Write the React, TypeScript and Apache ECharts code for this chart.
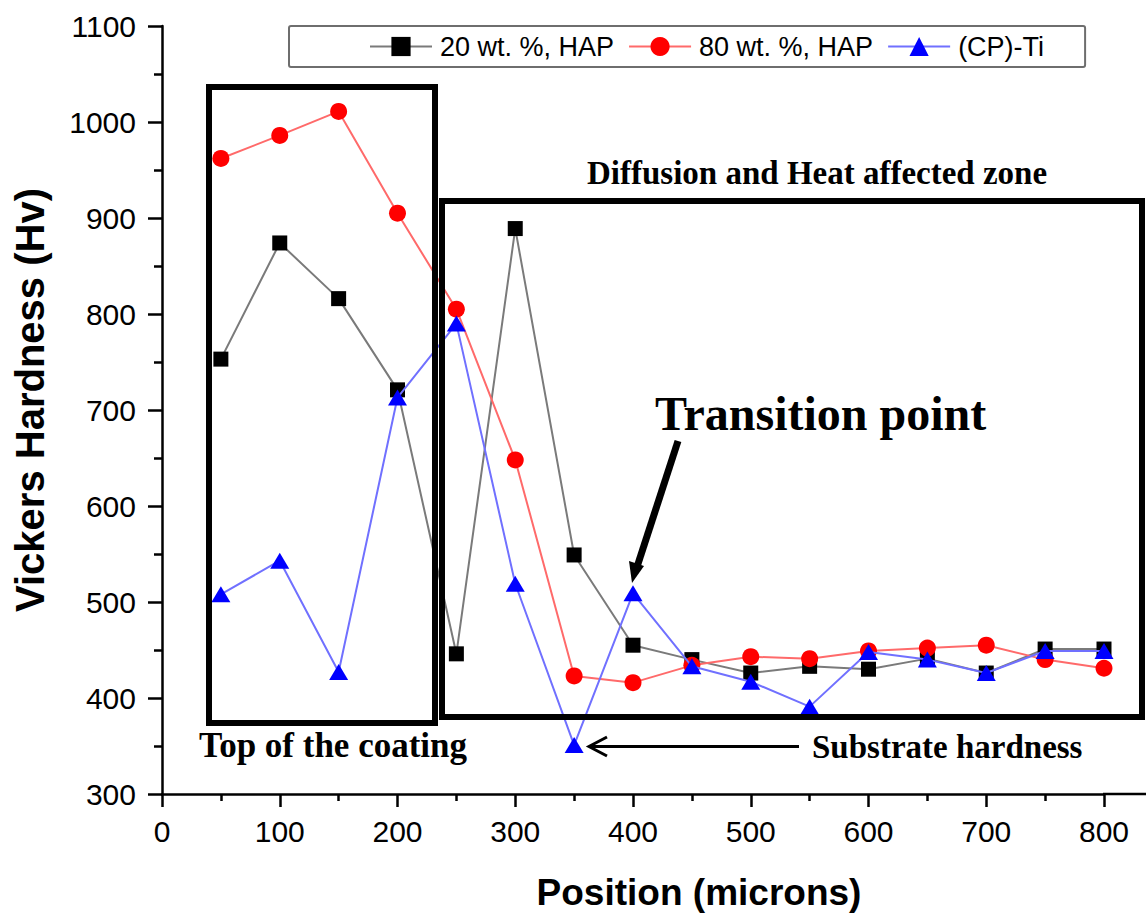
import React, { useEffect, useRef } from "react";
import * as echarts from "echarts";

const positions = [50, 100, 150, 200, 250, 300, 350, 400, 450, 500, 550, 600, 650, 700, 750, 800];
const hap20 = [753, 874, 816, 721, 446, 889, 549, 455, 440, 426, 433, 430, 441, 426, 451, 451];
const hap80 = [962, 986, 1011, 905, 805, 648, 423, 416, 434, 443, 441, 449, 452, 455, 440, 431];
const cpTi = [508, 543, 427, 713, 790, 519, 351, 509, 433, 417, 391, 448, 440, 426, 449, 449];
const seriesNames = ["20 wt. %, HAP", "80 wt. %, HAP", "(CP)-Ti"];

const SANS = '"Liberation Sans", Arial, sans-serif';
const SERIF = '"Liberation Serif", "Times New Roman", serif';

function pairs(vals: number[]) {
  return positions.map((p, i) => [p, vals[i]]);
}

export default function App() {
  const ref = useRef<HTMLDivElement>(null);
  useEffect(() => {
    if (!ref.current) return;
    const chart = echarts.init(ref.current, undefined, { renderer: "svg" });
    const txt = (text: string, x: number, y: number, size: number, align = "left") => ({
      type: "text",
      z: 100,
      x,
      y,
      style: {
        text,
        font: `bold ${size}px ${SERIF}`,
        fill: "#000",
        align,
        verticalAlign: "middle",
        textAlign: align,
        textVerticalAlign: "middle",
      },
    });
    const plain = (v: number) => String(v);
    chart.setOption({
      animation: false,
      backgroundColor: "#fff",
      grid: { left: 162, right: 42, top: 26, bottom: 123, containLabel: false },
      legend: {
        left: 289,
        top: 26,
        padding: [7, 41, 7, 80],
        borderColor: "#6e6e6e",
        borderWidth: 2,
        borderRadius: 2,
        itemGap: 14,
        itemWidth: 62,
        itemHeight: 24,
        textStyle: { fontSize: 27, fontFamily: SANS, color: "#000", padding: [0, 0, 0, 3] },
        data: seriesNames,
      },
      xAxis: {
        type: "value",
        min: 0,
        max: 800,
        interval: 100,
        name: "Position (microns)",
        nameLocation: "middle",
        nameGap: 80,
        nameTextStyle: { fontSize: 37, fontWeight: "bold", fontFamily: SANS, color: "#000", padding: [0, 0, 0, 132] },
        axisLine: { onZero: false, lineStyle: { color: "#000", width: 2.5 } },
        axisTick: { length: 13, lineStyle: { color: "#000", width: 2.5 } },
        minorTick: { show: true, splitNumber: 2, length: 7, lineStyle: { color: "#000", width: 2.5 } },
        axisLabel: { fontSize: 30, fontFamily: SANS, color: "#000", margin: 22, formatter: plain },
        splitLine: { show: false },
      },
      yAxis: {
        type: "value",
        min: 300,
        max: 1100,
        interval: 100,
        name: "Vickers Hardness (Hv)",
        nameLocation: "middle",
        nameGap: 112,
        nameTextStyle: { fontSize: 40, fontWeight: "bold", fontFamily: SANS, color: "#000", padding: [0, 0, 0, 20] },
        axisLine: { show: true, onZero: false, lineStyle: { color: "#000", width: 2.5 } },
        axisTick: { length: 14, lineStyle: { color: "#000", width: 2.5 } },
        minorTick: { show: true, splitNumber: 2, length: 8, lineStyle: { color: "#000", width: 2.5 } },
        axisLabel: { fontSize: 30, fontFamily: SANS, color: "#000", margin: 26, formatter: plain },
        splitLine: { show: false },
      },
      series: [
        {
          name: seriesNames[0],
          type: "line",
          data: pairs(hap20),
          symbol: "rect",
          symbolSize: 15,
          itemStyle: { color: "#000" },
          lineStyle: { color: "#7a7a7a", width: 2 },
          z: 3,
        },
        {
          name: seriesNames[1],
          type: "line",
          data: pairs(hap80),
          symbol: "circle",
          symbolSize: 17,
          itemStyle: { color: "#ff0000" },
          lineStyle: { color: "#ff6a6a", width: 2 },
          z: 4,
        },
        {
          name: seriesNames[2],
          type: "line",
          data: pairs(cpTi),
          symbol: "triangle",
          symbolSize: [19, 16],
          itemStyle: { color: "#0000ff" },
          lineStyle: { color: "#7070ff", width: 2 },
          z: 5,
        },
      ],
      graphic: [
        { type: "line", z: 100, shape: { x1: 1103, y1: 794, x2: 1146, y2: 794 }, style: { stroke: "#000", lineWidth: 2.5 } },
        { type: "rect", z: 100, shape: { x: 209, y: 87, width: 226, height: 636 }, style: { fill: "none", stroke: "#000", lineWidth: 6 } },
        { type: "rect", z: 100, shape: { x: 442, y: 201, width: 700, height: 516 }, style: { fill: "none", stroke: "#000", lineWidth: 6 } },
        txt("Diffusion and Heat affected zone", 587, 173, 33),
        txt("Transition point", 655, 413, 48),
        txt("Top of the coating", 199, 745, 35),
        txt("Substrate hardness", 812, 747, 33),
        { type: "line", z: 100, shape: { x1: 678, y1: 441, x2: 637, y2: 567 }, style: { stroke: "#000", lineWidth: 7 } },
        { type: "polygon", z: 100, shape: { points: [[632, 583], [644, 566], [629, 561]] }, style: { fill: "#000" } },
        { type: "line", z: 100, shape: { x1: 590, y1: 746.5, x2: 799, y2: 746.5 }, style: { stroke: "#000", lineWidth: 3 } },
        { type: "polyline", z: 100, shape: { points: [[607, 737], [589, 746.5], [607, 756]] }, style: { stroke: "#000", lineWidth: 3, fill: "none" } },
      ],
    });
    return () => chart.dispose();
  }, []);
  return <div ref={ref} style={{ position: "absolute", left: 0, top: 0, width: 1146, height: 917 }} />;
}
